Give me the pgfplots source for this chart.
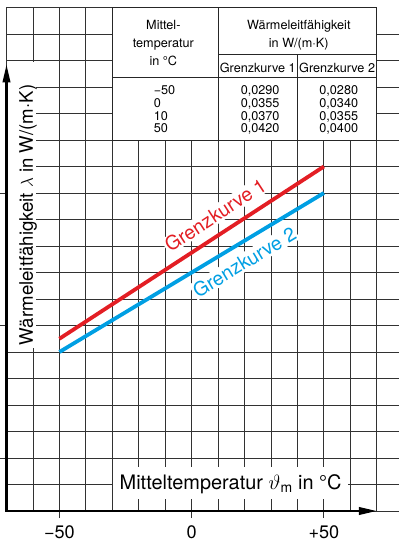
\documentclass[border=0pt]{standalone}
\usepackage{pgfplots}
\pgfplotsset{compat=1.18}
\usepackage{fontspec}
\setmainfont{TeX Gyre Heros}
\usetikzlibrary{arrows.meta}
\definecolor{kred}{RGB}{227,30,36}
\definecolor{kblue}{RGB}{0,159,227}
\definecolor{gridc}{RGB}{50,50,50}
\tikzset{gl/.style={gridc, line width=0.9bp},
         tl/.style={black!85, line width=0.9bp},
         tt/.style={anchor=base, inner sep=0pt, font=\fontsize{12.7}{14}\selectfont}}
\begin{document}
\begin{tikzpicture}
\begin{axis}[
  at={(0,0)}, anchor=south west,
  scale only axis, width=392.8bp, height=503.5bp,
  xmin=-70, xmax=78.5, ymin=0.016, ymax=0.054,
  clip=false,
  axis x line*=bottom, axis y line*=left,
  axis line style={draw=none},
  tick align=outside, major tick length=7bp,
  xtick={-50,0,50}, xticklabels={−50,0,+50},
  ytick={0.02,0.03,0.04}, yticklabels={},
  scaled y ticks=false,
  tick style={gridc, line width=0.9bp},
  /pgf/number format/assume math mode=true,
  xticklabel style={font=\fontsize{18.2}{20}\selectfont, inner sep=0pt,
                    text depth=0pt, anchor=north, yshift=-7.5bp},
]
% grid
\pgfplotsinvokeforeach{-60,-50,-40,-30,-20,-10,0,10,20,30,40,50,60,70}{
  \draw[gl] (axis cs:#1,0.016) -- (axis cs:#1,0.054);
}
\pgfplotsinvokeforeach{0.016,0.018,0.020,0.022,0.024,0.026,0.028,0.030,0.032,0.034,0.036,0.038,0.040,0.042,0.044,0.046,0.048,0.050,0.052}{
  \draw[gl] (axis cs:-70,#1) -- (axis cs:78.5,#1);
}
\draw[gl] (axis cs:-70,0.054) -- (axis cs:70,0.054);
\draw[gl] (axis cs:-70,0.016) -- (axis cs:-70,0.054);

% table
\fill[white] (axis cs:-30,0.044) rectangle (axis cs:70,0.054);
\draw[tl] (axis cs:-30,0.044) rectangle (axis cs:70,0.054);
\draw[tl] (axis cs:10,0.044) -- (axis cs:10,0.054);
\draw[tl] (axis cs:10,0.050453) -- (axis cs:70,0.050453);
\draw[tl] (axis cs:40,0.044) -- (axis cs:40,0.050453);
\draw[tl] (axis cs:-30,0.048717) -- (axis cs:70,0.048717);
\node[tt] at (axis cs:-10.7,0.052317) {Mittel-};
\node[tt] at (axis cs:-10.7,0.051004) {temperatur};
\node[tt] at (axis cs:-10.7,0.049623) {in °C};
\node[tt] at (axis cs:40.5,0.052317) {Wärmeleitfähigkeit};
\node[tt] at (axis cs:40.5,0.051004) {in W/(m·K)};
\node[tt] at (axis cs:25,0.049072) {Grenzkurve 1};
\node[tt] at (axis cs:55,0.049072) {Grenzkurve 2};
\node[tt, anchor=base west] at (axis cs:-14.4,0.047434) {−50};
\node[tt, anchor=base west] at (axis cs:-14.4,0.046468) {0};
\node[tt, anchor=base west] at (axis cs:-14.4,0.045502) {10};
\node[tt, anchor=base west] at (axis cs:-14.4,0.044543) {50};
\node[tt] at (axis cs:25.9,0.047434) {0,0290};
\node[tt] at (axis cs:25.9,0.046468) {0,0355};
\node[tt] at (axis cs:25.9,0.045502) {0,0370};
\node[tt] at (axis cs:25.9,0.044543) {0,0420};
\node[tt] at (axis cs:55.6,0.047434) {0,0280};
\node[tt] at (axis cs:55.6,0.046468) {0,0340};
\node[tt] at (axis cs:55.6,0.045502) {0,0355};
\node[tt] at (axis cs:55.6,0.044543) {0,0400};

% axis labels with white boxes
\fill[white] (axis cs:-69.55,0.0283) rectangle (axis cs:-58.7,0.04989);
\node[rotate=90, anchor=base, inner sep=0pt,
      font=\fontsize{18.7}{22}\selectfont] at (axis cs:-60,0.03834)
      {Wärmeleitfähigkeit $\lambda$ in W/(m·K)};
\fill[white] (axis cs:-29.85,0.016906) rectangle (axis cs:59.2,0.01932);
\node[anchor=base, inner sep=0pt,
      font=\fontsize{20}{22}\selectfont] at (axis cs:14.74,0.017638)
      {Mitteltemperatur $\vartheta$\textsubscript{m} in °C};

% curve labels
\node[kred, fill=white, rotate=33.1, inner sep=1.5bp,
      font=\fontsize{19.5}{22}\selectfont] at (axis cs:8.96,0.03834) {Grenzkurve 1};
\node[kblue, fill=white, rotate=31.0, inner sep=1.5bp,
      font=\fontsize{19.5}{22}\selectfont] at (axis cs:19.9,0.03479) {Grenzkurve 2};

% curves
\addplot[kred, line width=3.8bp, no marks] coordinates {(-50,0.0290) (0,0.0355) (50,0.0420)};
\addplot[kblue, line width=3.8bp, no marks] coordinates {(-50,0.0280) (0,0.0340) (50,0.0400)};

% axes arrows
\draw[line width=2.3bp, line cap=rect, -{Triangle[length=18bp,width=7.5bp]}]
  (axis cs:-70,0.016) -- (axis cs:-70,0.0497);
\draw[line width=2.3bp, line cap=rect, -{Triangle[length=18bp,width=7.5bp]}]
  (axis cs:-70,0.016) -- (axis cs:70,0.016);
\end{axis}
\pgfresetboundingbox
\path[use as bounding box] (-6.5bp,-31bp) rectangle (392.5bp,511bp);
\end{tikzpicture}
\end{document}
